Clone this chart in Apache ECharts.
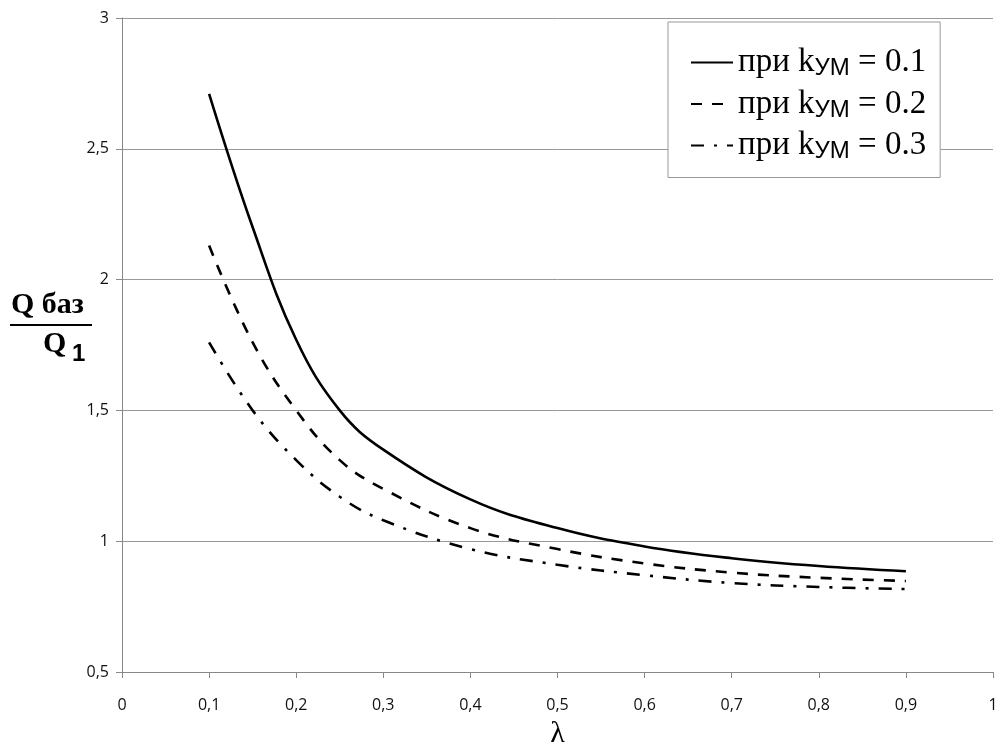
<!DOCTYPE html>
<html>
<head>
<meta charset="utf-8">
<script src="https://cdn.jsdelivr.net/npm/echarts@6/dist/echarts.min.js"></script>
<style>
html, body { margin: 0; padding: 0; background: #fff; }
#chart { width: 1003px; height: 749px; }
</style>
</head>
<body>
<div id="chart"></div>
<script>
// λ values
var lambdas = [0.1, 0.15, 0.2, 0.25, 0.3, 0.4, 0.5, 0.6, 0.7, 0.8, 0.9];
// Q баз / Q1 for each k_УМ
var k01 = [2.71, 2.2, 1.77, 1.5, 1.35, 1.16, 1.05, 0.98, 0.935, 0.905, 0.885];
var k02 = [2.13, 1.76, 1.5, 1.31, 1.2, 1.05, 0.97, 0.915, 0.88, 0.86, 0.848];
var k03 = [1.76, 1.5, 1.31, 1.17, 1.08, 0.97, 0.91, 0.87, 0.84, 0.825, 0.817];
var kLabels = ['0.1', '0.2', '0.3'];

function pairs(ys) {
    return lambdas.map(function (x, i) { return [x, ys[i]]; });
}

var chart = echarts.init(document.getElementById('chart'));

var dashTypes = ['solid', [11, 10], [13, 10, 3, 10]];
var allData = [k01, k02, k03];

var series = allData.map(function (ys, i) {
    return {
        name: 'при k' + i,
        type: 'line',
        data: pairs(ys),
        smooth: 0.4,
        symbol: 'none',
        lineStyle: { color: '#000', width: 2.6, type: dashTypes[i] },
        itemStyle: { color: '#000' }
    };
});

function commaFmt(v) { return String(+v.toFixed(1)).replace('.', ','); }

var option = {
    backgroundColor: '#fff',
    animation: false,
    grid: { left: 122, right: 10, top: 18, bottom: 77, outerBoundsMode: 'none' },
    xAxis: {
        type: 'value',
        min: 0, max: 1, interval: 0.1,
        name: 'λ',
        nameLocation: 'middle',
        nameGap: 47,
        nameTextStyle: { fontFamily: 'Liberation Serif', fontSize: 30, color: '#000' },
        axisLine: { lineStyle: { color: '#888', width: 1 } },
        axisTick: { show: true, length: 6, lineStyle: { color: '#888' } },
        splitLine: { show: false },
        axisLabel: {
            margin: 25,
            fontFamily: 'Open Sans', fontSize: 16, color: '#111',
            formatter: commaFmt
        }
    },
    yAxis: {
        type: 'value',
        min: 0.5, max: 3, interval: 0.5,
        axisLine: { show: true, lineStyle: { color: '#888', width: 1 } },
        axisTick: { show: true, length: 6, lineStyle: { color: '#888' } },
        splitLine: { lineStyle: { color: '#999', width: 1 } },
        axisLabel: {
            margin: 13,
            fontFamily: 'Open Sans', fontSize: 16, color: '#111',
            formatter: commaFmt
        }
    },
    legend: {
        orient: 'vertical',
        left: 668, top: 22,
        padding: [24, 14, 14, 22],
        backgroundColor: '#fff',
        borderColor: '#999',
        borderWidth: 1,
        borderRadius: 0,
        itemWidth: 42,
        itemHeight: 14,
        itemGap: 7,
        itemStyle: { opacity: 0 },
        data: series.map(function (s) { return s.name; }),
        formatter: function (name) {
            var i = +name.slice(-1);
            return '{a|при k}{b|УМ}{a| = ' + kLabels[i] + '}';
        },
        textStyle: {
            rich: {
                a: { fontFamily: 'Liberation Serif', fontSize: 33, color: '#000', lineHeight: 36, verticalAlign: 'middle' },
                b: { fontFamily: 'Liberation Sans', fontSize: 24, color: '#000', lineHeight: 18, verticalAlign: 'bottom' }
            }
        }
    },
    graphic: [
        {
            type: 'text', left: 11, top: 290,
            style: { text: 'Q баз', font: 'bold 30px "Liberation Serif"', fill: '#000' }
        },
        {
            type: 'rect', shape: { x: 10, y: 324, width: 82, height: 2 },
            style: { fill: '#000' }
        },
        {
            type: 'text', left: 43, top: 329,
            style: { text: 'Q', font: 'bold 30px "Liberation Serif"', fill: '#000' }
        },
        {
            type: 'text', left: 72, top: 342,
            style: { text: '1', font: 'bold 24px "Liberation Sans"', fill: '#000' }
        }
    ],
    series: series
};

chart.setOption(option);
</script>
</body>
</html>
